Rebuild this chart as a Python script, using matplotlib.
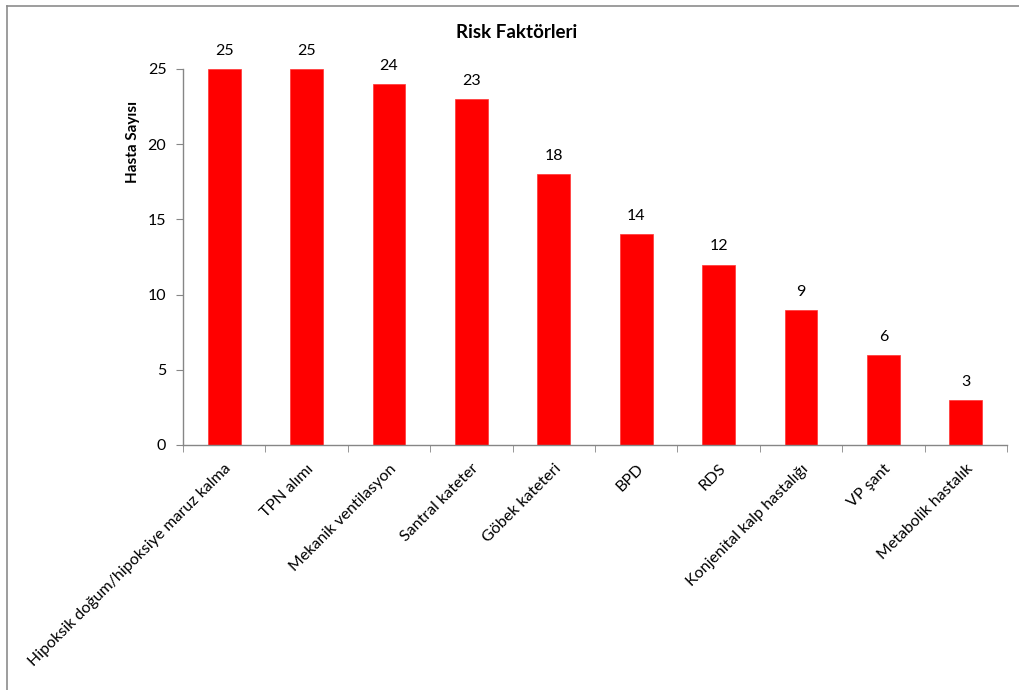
import matplotlib
matplotlib.use("Agg")
import matplotlib.pyplot as plt
import numpy as np
from matplotlib.lines import Line2D

categories = ["Hipoksik doğum/hipoksiye maruz kalma", "TPN alımı", "Mekanik ventilasyon",
              "Santral kateter", "Göbek kateteri", "BPD", "RDS",
              "Konjenital kalp hastalığı", "VP şant", "Metabolik hastalık"]
values = [25, 25, 24, 23, 18, 14, 12, 9, 6, 3]
yticks = [0, 5, 10, 15, 20, 25]

plt.rcParams['font.family'] = ['Lato', 'DejaVu Sans']

fig = plt.figure(figsize=(10.2, 6.9), dpi=100)
ax = fig.add_axes([183/1020, 1-445/690, (1007-183)/1020, (445-69)/690])

x = np.arange(len(categories))
ax.bar(x, values, width=0.4, color='#ff0000', edgecolor='#ff3333', linewidth=0.5, zorder=2)
for xi, v in zip(x, values):
    ax.annotate(str(v), (xi, v), xytext=(0, 8), textcoords='offset points',
                ha='center', va='bottom', fontsize=11.5)

ax.set_xlim(-0.5, len(categories)-0.5)
ax.set_ylim(0, 25)
ax.set_yticks(yticks)
ax.set_yticklabels([str(t) for t in yticks], fontsize=11.5)
ax.set_xticks(x)
ax.set_xticklabels(categories, rotation=45, ha='right', va='top', rotation_mode='anchor', fontsize=11.5)
ax.set_xticks(np.arange(-0.5, len(categories), 1.0), minor=True)
ax.tick_params(axis='x', which='major', length=0, pad=12)
ax.tick_params(axis='x', which='minor', length=5, color='#868686', direction='out')
ax.tick_params(axis='y', length=5, color='#868686', direction='out', pad=7)
for s in ['top', 'right']:
    ax.spines[s].set_visible(False)
for s in ['left', 'bottom']:
    ax.spines[s].set_color('#868686')
    ax.spines[s].set_linewidth(1.0)

fig.text(517/1020, 1-33/690, "Risk Faktörleri", ha='center', va='center', fontsize=13.5, fontweight='bold')
fig.text(133/1020, 1-142/690, "Hasta Sayısı", ha='center', va='center', rotation=90, fontsize=11, fontweight='bold')

# frame (top and left edges visible)
fig.add_artist(Line2D([7/1020, 7/1020], [0, 1-6/690], transform=fig.transFigure, color='#8c8c8c', lw=1.2))
fig.add_artist(Line2D([7/1020, 1], [1-6/690, 1-6/690], transform=fig.transFigure, color='#8c8c8c', lw=1.2))

fig.savefig("out.png", dpi=100)
